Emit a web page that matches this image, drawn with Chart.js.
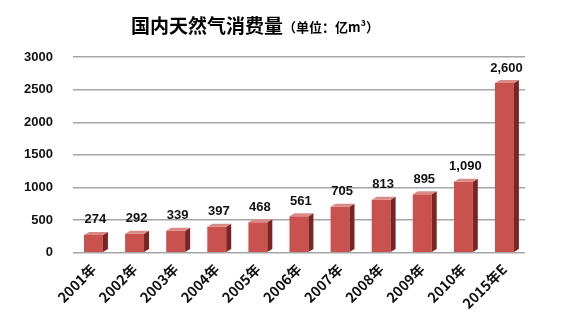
<!DOCTYPE html>
<html>
<head>
<meta charset="utf-8">
<script src="https://cdn.jsdelivr.net/npm/chart.js@4/dist/chart.umd.min.js"></script>
<style>
  html, body { margin: 0; padding: 0; background: #fff; }
  #wrap { width: 567px; height: 332px; position: relative; }
</style>
</head>
<body>
<div id="wrap"><canvas id="c" width="567" height="332"></canvas></div>
<script>
const years = ["2001年", "2002年", "2003年", "2004年", "2005年", "2006年", "2007年", "2008年", "2009年", "2010年", "2015年E"];
const consumption = [274, 292, 339, 397, 468, 561, 705, 813, 895, 1090, 2600];
const yTicks = [0, 500, 1000, 1500, 2000, 2500, 3000];

const fmt = v => v.toLocaleString("en-US");

// title drawn on canvas, big part + small unit part
const titlePlugin = {
  id: "titleMix",
  afterDraw(chart) {
    const ctx = chart.ctx;
    ctx.save();
    ctx.fillStyle = "#000";
    ctx.textBaseline = "alphabetic";
    const big = "国内天然气消费量";
    const small = "（单位：亿m³）";
    ctx.font = "bold 19px 'Noto Sans CJK SC'";
    const w1 = ctx.measureText(big).width;
    ctx.font = "bold 13px 'Noto Sans CJK SC'";
    const w2 = ctx.measureText(small).width;
    let x = 255 - (w1 + w2) / 2;
    ctx.font = "bold 19px 'Noto Sans CJK SC'";
    ctx.fillText(big, x, 33);
    ctx.font = "bold 13px 'Noto Sans CJK SC'";
    ctx.fillText(small, x + w1, 32);
    ctx.restore();
  }
};

// fake 3d side of each bar + value labels
const barsPlugin = {
  id: "bars3d",
  afterDatasetsDraw(chart) {
    const ctx = chart.ctx;
    const meta = chart.getDatasetMeta(0);
    ctx.save();
    meta.data.forEach((bar, i) => {
      const right = bar.x + bar.width / 2;
      const d = 5;
      ctx.fillStyle = "#7a2523";
      ctx.beginPath();
      ctx.moveTo(right, bar.y);
      ctx.lineTo(right + d, bar.y - 3);
      ctx.lineTo(right + d, bar.base - 3);
      ctx.lineTo(right, bar.base);
      ctx.closePath();
      ctx.fill();
      ctx.fillStyle = "#d98a87";
      ctx.beginPath();
      ctx.moveTo(bar.x - bar.width / 2, bar.y);
      ctx.lineTo(bar.x - bar.width / 2 + d, bar.y - 3);
      ctx.lineTo(right + d, bar.y - 3);
      ctx.lineTo(right, bar.y);
      ctx.closePath();
      ctx.fill();

      ctx.fillStyle = "#111";
      ctx.font = "bold 13px 'Liberation Sans'";
      ctx.textAlign = "center";
      ctx.textBaseline = "middle";
      ctx.fillText(fmt(consumption[i]), bar.x + 2, bar.y - 15);
    });
    ctx.restore();
  }
};

new Chart(document.getElementById("c"), {
  type: "bar",
  data: {
    labels: years,
    datasets: [{
      data: consumption,
      backgroundColor: "#c9514e",
      borderWidth: 0,
      categoryPercentage: 0.92,
      barPercentage: 0.5
    }]
  },
  options: {
    responsive: false,
    animation: false,
    layout: { padding: { top: 57, right: 42, left: 4, bottom: 20 } },
    plugins: { legend: { display: false }, tooltip: { enabled: false }, title: { display: false } },
    scales: {
      x: {
        grid: { display: false },
        border: { display: false },
        ticks: {
          color: "#111",
          font: { family: "'Noto Sans CJK SC'", size: 14, weight: "bold" },
          minRotation: 45, maxRotation: 45, padding: 0
        }
      },
      y: {
        min: 0, max: 3000,
        afterBuildTicks: s => { s.ticks = yTicks.map(v => ({ value: v })); },
        grid: { color: "#a6a6a6", lineWidth: 1.5, drawTicks: false },
        border: { display: false },
        ticks: {
          color: "#111",
          font: { family: "'Liberation Sans'", size: 13, weight: "bold" },
          padding: 20,
          callback: v => String(v)
        }
      }
    }
  },
  plugins: [titlePlugin, barsPlugin]
});
</script>
</body>
</html>
